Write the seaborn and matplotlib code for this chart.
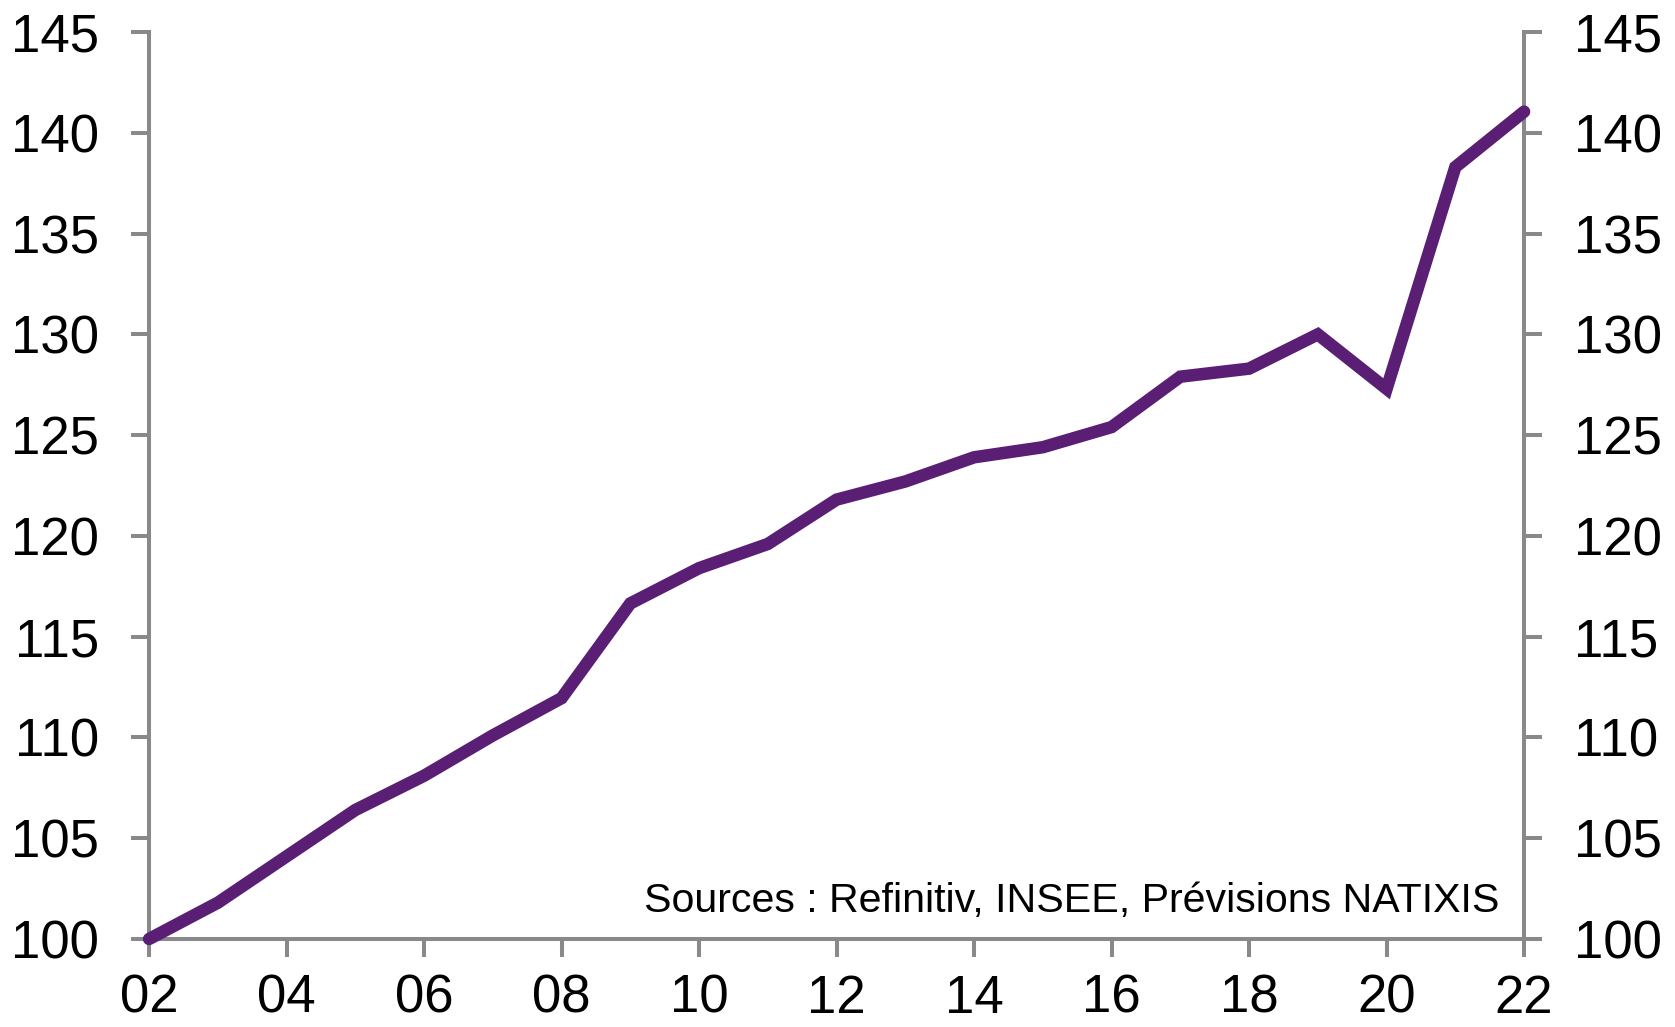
import matplotlib
matplotlib.use("Agg")
import matplotlib.pyplot as plt
import seaborn as sns
import pandas as pd

# Index level by year (2002 = 100)
years = list(range(2002, 2023))
index_values = [100.0, 101.8, 104.1, 106.4, 108.1, 110.1, 111.95, 116.65, 118.4,
                119.6, 121.8, 122.7, 123.9, 124.4, 125.4, 127.9, 128.3, 130.0,
                127.3, 138.3, 141.05]
x_tick_labels = ["02", "04", "06", "08", "10", "12", "14", "16", "18", "20", "22"]
y_ticks = [100, 105, 110, 115, 120, 125, 130, 135, 140, 145]
source_note = "Sources : Refinitiv, INSEE, Prévisions NATIXIS"

sns.set_style("white")
plt.rcParams["font.family"] = ["Liberation Sans", "DejaVu Sans"]

spine_color = "#898989"
line_color = "#5a1e74"

df = pd.DataFrame({"year": years, "index": index_values})

fig = plt.figure(figsize=(16.75, 10.27), dpi=100)
ax = fig.add_axes([0.0890, 0.0857, 0.8209, 0.8831])

sns.lineplot(data=df, x="year", y="index", ax=ax, color=line_color,
             linewidth=9.0, solid_capstyle="round", solid_joinstyle="miter",
             clip_on=False, zorder=3)

ax.set_xlim(2002, 2022)
ax.set_ylim(100, 145)
ax.set_xticks(years[::2])
ax.set_xticklabels(x_tick_labels)
ax.set_yticks(y_ticks)
ax.set_xlabel("")
ax.set_ylabel("")

for side in ["left", "right", "bottom"]:
    ax.spines[side].set_visible(True)
    ax.spines[side].set_color(spine_color)
    ax.spines[side].set_linewidth(2.9)
ax.spines["top"].set_visible(False)

ax.tick_params(axis="both", which="major", direction="out", length=13,
               width=2.9, color=spine_color, labelsize=38, labelcolor="black")
ax.tick_params(axis="y", left=True, right=True, labelleft=True, labelright=True,
               pad=23)
ax.tick_params(axis="x", bottom=True, pad=12)

ax.text(0.982, 0.03, source_note, transform=ax.transAxes, ha="right",
        va="baseline", fontsize=29.6, color="black")

fig.savefig("out.png", dpi=100, facecolor="white")
